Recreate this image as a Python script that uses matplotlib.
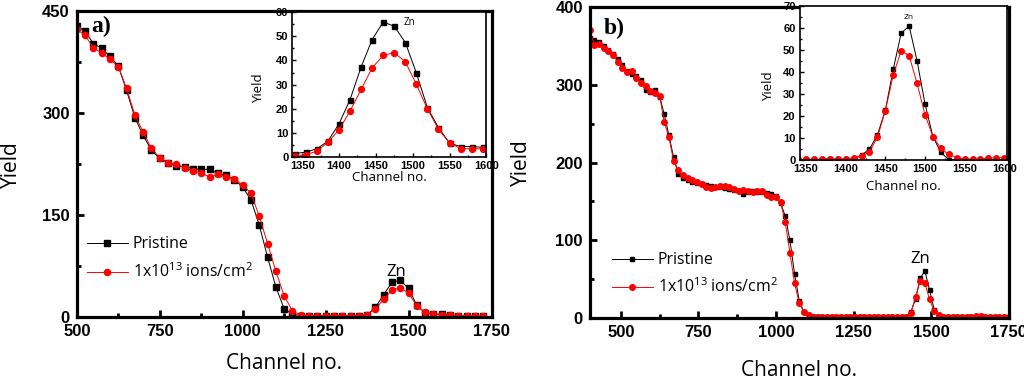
import numpy as np
import matplotlib

matplotlib.use("Agg")
import matplotlib.pyplot as plt
from matplotlib.ticker import MultipleLocator

plt.rcParams["mathtext.fontset"] = "custom"
plt.rcParams["mathtext.rm"] = "Open Sans"
plt.rcParams["mathtext.it"] = "Open Sans:italic"
plt.rcParams["mathtext.bf"] = "Open Sans:bold"

LABEL_FONT = "Open Sans"
TICK_FONT = "Liberation Sans"

# --- panel a: main spectrum (channel step 25) ---
chan_a = np.arange(500, 1726, 25)
pristine_a = [428, 420, 402, 395, 383, 369, 333, 293, 267, 245, 233, 227, 222, 221, 218,
              217, 217, 211, 208, 202, 191, 172, 135, 88, 44, 12, 4, 2, 1.5, 1.5,
              1.5, 1.5, 1.5, 1.5, 2, 3, 14, 33, 51, 54, 42, 17, 6, 4.5, 4,
              3, 2, 1.5, 1, 1]
irrad_a = [423, 414, 396, 388, 379, 368, 336, 297, 272, 248, 234, 227, 225, 219, 215,
           212, 206, 210, 206, 203, 194, 182, 148, 108, 67, 31, 9, 2.5, 1.5, 1.5,
           1.5, 1.5, 1.5, 1.5, 2, 3.4, 12, 26, 40, 43, 35, 16, 7, 4, 3,
           2.5, 1.5, 1, 1, 1]

# --- panel a inset: Zn peak (channel step 15) ---
chan_ins_a = np.arange(1340, 1596, 15)
pristine_ins_a = [1.5, 2.1, 3.5, 6.6, 13.8, 23.8, 37.3, 48.6, 55.9, 54.1, 47.4, 34.8,
                  20.4, 12.2, 5.8, 4.4, 4.4, 4.1]
irrad_ins_a = [0.3, 1.0, 2.5, 6.2, 11.3, 19.1, 28.0, 36.9, 42.1, 43.2, 39.4, 30.1,
               19.9, 11.5, 5.9, 3.5, 3.5, 3.5]

# --- panel b: main spectrum (channel step 15) ---
chan_b = np.arange(400, 1751, 15)
pristine_b = [360, 358, 355, 350, 345, 340, 333, 325, 318, 314, 311, 306, 293, 291, 293,
              285, 262, 235, 207, 186, 180, 177, 175, 174, 172, 171, 170, 169, 168, 167,
              166, 165, 163, 160, 162, 163, 162, 162, 161, 159, 157, 148, 131, 100, 57,
              22, 8, 3, 2, 1.5, 1.5, 1.5, 1.5, 1.5, 1.5, 1.5, 1.5, 1.5, 1.5,
              1.5, 1.5, 1.5, 1.5, 1.5, 1.5, 1.5, 1.5, 1.5, 2, 8, 25, 51, 61, 36,
              11, 1.5, 1, 1, 1, 1, 1, 1.5, 1.5, 1.5, 1.5, 1, 1, 1, 1, 1, 1]
irrad_b = [370, 351, 352, 348, 343, 338, 330, 322, 316, 318, 309, 302, 298, 292, 290,
           286, 252, 233, 202, 190, 184, 180, 177, 175, 173, 168, 167, 168, 170, 170,
           168, 166, 164, 165, 163, 162, 164, 163, 158, 156, 156, 149, 123, 84, 45,
           19, 8, 4, 2, 1.5, 1.5, 1.5, 1.5, 1.5, 1.5, 1.5, 1.5, 1.5, 1.5,
           1.5, 1.5, 1.5, 1.5, 1.5, 1.5, 1.5, 1.5, 1.5, 2, 7, 27, 48, 45, 24,
           9, 4, 2, 1.5, 1, 1, 1, 1.5, 2, 2.5, 2.5, 2, 1.5, 1, 1, 1, 1]

# --- panel b inset: Zn peak (channel step 10) ---
chan_ins_b = np.arange(1340, 1601, 10)
pristine_ins_b = [0.3, 0.3, 0.3, 0.3, 0.4, 0.4, 0.4, 0.5, 2.3, 5.0, 11.5, 22.6, 41.3, 57.7,
                  60.9, 45.2, 25.7, 10.7, 3.5, 0.3, 0.2, 0.2, 0.2, 0.2, 0.2, 0.2, 0.2]
irrad_ins_b = [0.4, 0.4, 0.4, 0.4, 0.5, 0.5, 0.6, 1.1, 1.8, 3.8, 10.4, 22.5, 38.7, 49.7,
               47.5, 34.9, 20.7, 10.7, 5.4, 2.6, 1.2, 0.6, 0.5, 0.5, 0.8, 1.1, 1.2]

LEG_PRISTINE = "Pristine"
LEG_IRRAD = r"1x10$^{13}$ ions/cm$^{2}$"


def _ticks(ax, xt, yt, xminor, yminor, size, spine_w, tick_w, tick_len, pad):
    ax.set_xticks(xt)
    ax.set_xticklabels([str(v) for v in xt], fontsize=size, fontweight="bold", family=TICK_FONT)
    ax.set_yticks(yt)
    ax.set_yticklabels([str(v) for v in yt], fontsize=size, fontweight="bold", family=TICK_FONT)
    ax.xaxis.set_minor_locator(MultipleLocator(xminor))
    ax.yaxis.set_minor_locator(MultipleLocator(yminor))
    ax.tick_params(which="major", direction="in", width=tick_w, length=tick_len, pad=pad)
    ax.tick_params(which="minor", direction="in", width=tick_w, length=tick_len * 0.6)
    for s in ax.spines.values():
        s.set_linewidth(spine_w)


def _series(ax, x, y_black, y_red, ms_sq, ms_ci):
    ax.plot(x, y_black, color="black", lw=0.7, marker="s", ms=ms_sq, label=LEG_PRISTINE)
    ax.plot(x, y_red, color="#ff0000", lw=0.7, marker="o", ms=ms_ci, label=LEG_IRRAD)


def _labels(ax, size, xcoord, ycoord):
    ax.set_xlabel("Channel no.", fontsize=size, family=LABEL_FONT)
    ax.set_ylabel("Yield", fontsize=size, family=LABEL_FONT)
    ax.xaxis.set_label_coords(*xcoord)
    ax.yaxis.set_label_coords(*ycoord)


fig = plt.figure(figsize=(10.24, 3.76), dpi=100)

# ---------------- panel a ----------------
ax_a = fig.add_axes([0.075, 0.157, 0.405, 0.814])
_series(ax_a, chan_a, pristine_a, irrad_a, 3.9, 4.4)
ax_a.set_xlim(500, 1750)
ax_a.set_ylim(0, 450)
_ticks(ax_a, [500, 750, 1000, 1250, 1500, 1750], [0, 150, 300, 450], 125, 75, 12, 2.3, 2, 5, 5)
_labels(ax_a, 15, (0.5, -0.118), (-0.133, 0.497))
ax_a.text(0.036, 0.95, "a)", transform=ax_a.transAxes, fontsize=17, fontweight="bold",
          family="Liberation Serif", va="center", ha="left")
ax_a.text(1464, 66, "Zn", fontsize=12, family=LABEL_FONT, ha="center", va="center")
ax_a.legend(loc="center left", bbox_to_anchor=(0.024, 0.19), frameon=False,
            prop={"family": LABEL_FONT, "size": 11.4}, handlelength=2.6,
            handletextpad=0.3, labelspacing=0.65, borderpad=0, borderaxespad=0)

ins_a = fig.add_axes([0.285, 0.582, 0.190, 0.386])
_series(ins_a, chan_ins_a, pristine_ins_a, irrad_ins_a, 3.6, 4.2)
ins_a.set_xlim(1336, 1600)
ins_a.set_ylim(0, 60)
_ticks(ins_a, [1350, 1400, 1450, 1500, 1550, 1600], [0, 10, 20, 30, 40, 50, 60], 25, 5,
       8, 1.2, 1, 3, 2.5)
_labels(ins_a, 9.5, (0.5, -0.097), (-0.138, 0.476))
ins_a.text(1496, 55.6, "Zn", fontsize=7, family=LABEL_FONT, ha="center", va="center")

# ---------------- panel b ----------------
ax_b = fig.add_axes([0.576, 0.154, 0.409, 0.827])
_series(ax_b, chan_b, pristine_b, irrad_b, 3.4, 4.0)
ax_b.set_xlim(400, 1750)
ax_b.set_ylim(0, 400)
_ticks(ax_b, [500, 750, 1000, 1250, 1500, 1750], [0, 100, 200, 300, 400], 125, 50, 12, 2.3, 2, 5, 5)
_labels(ax_b, 15, (0.5, -0.135), (-0.138, 0.5))
ax_b.text(0.033, 0.93, "b)", transform=ax_b.transAxes, fontsize=17, fontweight="bold",
          family="Liberation Serif", va="center", ha="left")
ax_b.text(1465, 76, "Zn", fontsize=12, family=LABEL_FONT, ha="center", va="center")
ax_b.legend(loc="center left", bbox_to_anchor=(0.0525, 0.141), frameon=False,
            prop={"family": LABEL_FONT, "size": 11.4}, handlelength=2.6,
            handletextpad=0.3, labelspacing=0.6, borderpad=0, borderaxespad=0)

ins_b = fig.add_axes([0.781, 0.574, 0.202, 0.41])
_series(ins_b, chan_ins_b, pristine_ins_b, irrad_ins_b, 3.4, 4.0)
ins_b.set_xlim(1342, 1603)
ins_b.set_ylim(0, 70)
_ticks(ins_b, [1350, 1400, 1450, 1500, 1550, 1600], [0, 10, 20, 30, 40, 50, 60, 70], 25, 5,
       8, 1.2, 1, 3, 3)
_labels(ins_b, 9.5, (0.5, -0.13), (-0.12, 0.48))
ins_b.text(1479, 64.8, "Zn", fontsize=6, family=LABEL_FONT, ha="center", va="center")

fig.savefig("out.png", dpi=100)
